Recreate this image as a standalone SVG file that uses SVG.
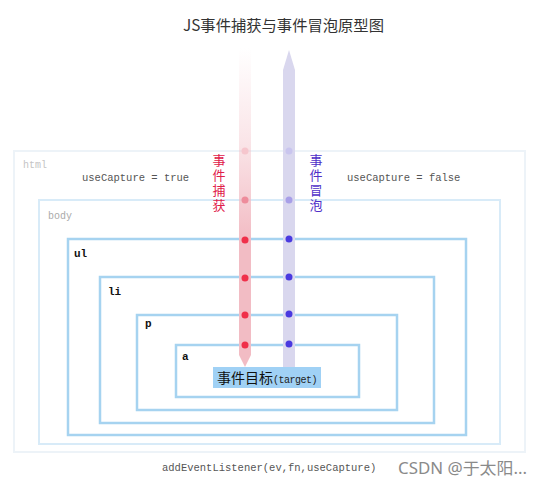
<svg xmlns="http://www.w3.org/2000/svg" width="540" height="486" viewBox="0 0 540 486">
<style>
.box{fill:none;stroke:#a6d3f0;stroke-width:2.5}
.lbl{font-family:"Liberation Mono",monospace;font-size:11px;font-weight:bold;fill:#111}
.mono{font-family:"Liberation Mono",monospace;font-size:10.5px;fill:#555}
.cjk{font-family:"Noto Sans CJK SC",sans-serif}
.vt{font-family:"Noto Sans CJK SC",sans-serif;font-size:13px;letter-spacing:1.8px}
.dr{fill:#f0304a}
.dp{fill:#4a3ae0}
</style>
<defs>
<linearGradient id="redg" gradientUnits="userSpaceOnUse" x1="0" y1="48" x2="0" y2="240">
<stop offset="0" stop-color="#f2bcc4" stop-opacity="0"/>
<stop offset="0.5" stop-color="#f2bcc4" stop-opacity="0.4"/>
<stop offset="1" stop-color="#f2bcc4" stop-opacity="1"/>
</linearGradient>
</defs>
<rect width="540" height="486" fill="#ffffff"/>
<text class="cjk" x="283.5" y="31" font-size="15.3" fill="#333" text-anchor="middle">JS事件捕获与事件冒泡原型图</text>

<g id="html">
<rect x="14" y="151" width="511" height="301" fill="none" stroke="#edf3f8" stroke-width="2"/>
<text x="23" y="168" font-family="Liberation Mono, monospace" font-size="10px" fill="#c4c4c4">html</text>
</g>
<g id="body">
<rect x="39" y="200" width="461" height="244" fill="none" stroke="#d8ebf8" stroke-width="2"/>
<text x="48" y="219" font-family="Liberation Mono, monospace" font-size="10px" fill="#aaa">body</text>
</g>
<g id="ul">
<rect class="box" x="68" y="239" width="398" height="196"/>
<text class="lbl" x="74" y="257">ul</text>
</g>
<g id="li">
<rect class="box" x="100" y="277" width="334" height="146"/>
<text class="lbl" x="108" y="295">li</text>
</g>
<g id="p">
<rect class="box" x="137" y="315" width="260" height="95"/>
<text class="lbl" x="145" y="327">p</text>
</g>
<g id="a">
<rect class="box" x="176" y="345" width="183" height="52"/>
<text class="lbl" x="182" y="360">a</text>
</g>

<text class="mono" x="82" y="181">useCapture = true</text>
<text class="mono" x="347" y="181">useCapture = false</text>

<g id="connectors">
<path d="M239,48 L251,48 L251,355 L245,367 L239,355 Z" fill="url(#redg)"/>
<path d="M289,50 L295,70 L295,367 L283,367 L283,70 Z" fill="#d9d7ee"/>
<circle cx="245" cy="151" r="3.5" fill="#f6c6cd"/>
<circle cx="245" cy="200" r="3.5" fill="#ee8c9b"/>
<circle class="dr" cx="245" cy="240" r="3.5"/>
<circle class="dr" cx="245" cy="278" r="3.5"/>
<circle class="dr" cx="245" cy="315" r="3.5"/>
<circle class="dr" cx="245" cy="345" r="3.5"/>
<circle cx="289" cy="151" r="3.5" fill="#c9c5ee"/>
<circle cx="289" cy="200" r="3.5" fill="#a89fe8"/>
<circle class="dp" cx="289" cy="239" r="3.5"/>
<circle class="dp" cx="289" cy="277" r="3.5"/>
<circle class="dp" cx="289" cy="314" r="3.5"/>
<circle class="dp" cx="289" cy="344" r="3.5"/>
</g>

<text class="vt" x="219" y="154" writing-mode="tb" fill="#e0204a">事件捕获</text>
<text class="vt" x="316" y="154" writing-mode="tb" fill="#5030c8">事件冒泡</text>

<g id="target">
<rect x="213" y="367" width="108" height="21" fill="#a0d1f5"/>
<text x="217" y="383" font-family="Noto Sans CJK SC, sans-serif" font-size="14px" fill="#111">事件目标<tspan font-family="Liberation Mono, monospace" font-size="10px" letter-spacing="-0.5" fill="#222">(target)</tspan></text>
</g>

<text class="mono" x="162" y="471" font-size="10.2px" fill="#444">addEventListener(ev,fn,useCapture)</text>
<text x="398" y="474" font-family="Noto Sans, Noto Sans CJK SC, sans-serif" font-size="16px" fill="#8a8a8a" textLength="129" lengthAdjust="spacingAndGlyphs">CSDN @于太阳...</text>
</svg>
